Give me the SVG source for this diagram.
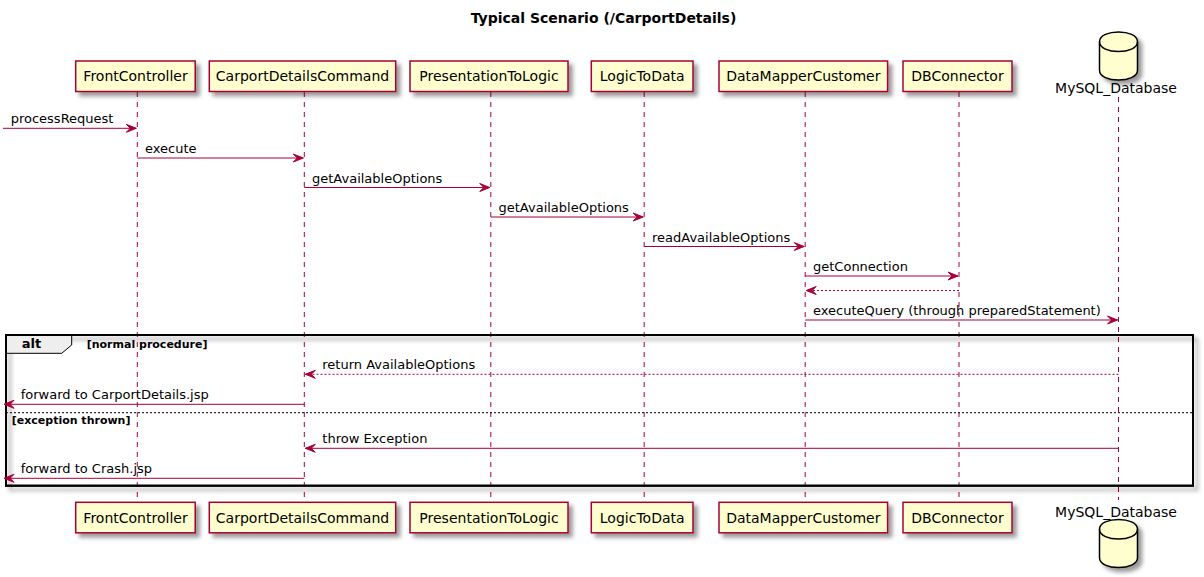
<svg xmlns="http://www.w3.org/2000/svg" width="1204" height="577" viewBox="0 0 1204 577">
<defs>
<filter id="sh" x="-10%" y="-10%" width="130%" height="140%">
<feGaussianBlur in="SourceAlpha" stdDeviation="2"/>
<feColorMatrix values="0 0 0 0 0 0 0 0 0 0 0 0 0 0 0 0 0 0 0.4 0"/>
<feOffset dx="4" dy="4" result="b"/>
<feMerge><feMergeNode in="b"/><feMergeNode in="SourceGraphic"/></feMerge>
</filter>
<filter id="shf" x="-2%" y="-5%" width="104%" height="115%">
<feGaussianBlur in="SourceAlpha" stdDeviation="2"/>
<feColorMatrix values="0 0 0 0 0 0 0 0 0 0 0 0 0 0 0 0 0 0 0.4 0"/>
<feOffset dx="4" dy="4" result="b"/>
<feMerge><feMergeNode in="b"/><feMergeNode in="SourceGraphic"/></feMerge>
</filter>
</defs>
<style>
text{font-family:"DejaVu Sans","Liberation Sans",sans-serif;fill:#000}
.title{font-size:14px;font-weight:bold}
.pbox{fill:#FEFECE;stroke:#A80036;stroke-width:1.5;filter:url(#sh)}
.db{fill:#FEFECE;stroke:#000;stroke-width:1.5;filter:url(#sh)}
.dbl{fill:none;stroke:#000;stroke-width:1.5}
.pt{font-size:14px;text-anchor:middle}
.life{stroke:#A80036;stroke-width:1;stroke-dasharray:5,5;fill:none}
.msg{stroke:#A80036;stroke-width:1;fill:none}
.ret{stroke:#A80036;stroke-width:1;stroke-dasharray:2,2;fill:none}
.ah{fill:#A80036;stroke:#A80036;stroke-width:1}
.mt{font-size:13px}
.frame{fill:none;stroke:#000;stroke-width:2;filter:url(#shf)}
.tab{fill:#EEEEEE;stroke:#000;stroke-width:1}
.sep{stroke:#000;stroke-width:1;stroke-dasharray:2,2}
.alt{font-size:13px;font-weight:bold}
.guard{font-size:11px;font-weight:bold}
</style>
<rect width="1204" height="577" fill="#FFFFFF"/>
<text class="title" x="603.5" y="23" text-anchor="middle">Typical Scenario (/CarportDetails)</text>

<g id="lifelines">
<line class="life" x1="137.3" y1="92" x2="137.3" y2="502"/>
<line class="life" x1="304.3" y1="92" x2="304.3" y2="502"/>
<line class="life" x1="490.8" y1="92" x2="490.8" y2="502"/>
<line class="life" x1="644.2" y1="92" x2="644.2" y2="502"/>
<line class="life" x1="805.2" y1="92" x2="805.2" y2="502"/>
<line class="life" x1="959" y1="92" x2="959" y2="502"/>
<line class="life" x1="1118.5" y1="97" x2="1118.5" y2="500"/>
</g>

<g id="FrontController">
<rect class="pbox" x="75.7" y="61" width="119.5" height="30.5"/>
<text class="pt" x="135.5" y="81">FrontController</text>
<rect class="pbox" x="75.7" y="502.3" width="119.5" height="30.5"/>
<text class="pt" x="135.5" y="522.5">FrontController</text>
</g>
<g id="CarportDetailsCommand">
<rect class="pbox" x="209.3" y="61" width="186.4" height="30.5"/>
<text class="pt" x="302.5" y="81">CarportDetailsCommand</text>
<rect class="pbox" x="209.3" y="502.3" width="186.4" height="30.5"/>
<text class="pt" x="302.5" y="522.5">CarportDetailsCommand</text>
</g>
<g id="PresentationToLogic">
<rect class="pbox" x="410" y="61" width="158" height="30.5"/>
<text class="pt" x="489" y="81">PresentationToLogic</text>
<rect class="pbox" x="410" y="502.3" width="158" height="30.5"/>
<text class="pt" x="489" y="522.5">PresentationToLogic</text>
</g>
<g id="LogicToData">
<rect class="pbox" x="591.3" y="61" width="101.7" height="30.5"/>
<text class="pt" x="642.2" y="81">LogicToData</text>
<rect class="pbox" x="591.3" y="502.3" width="101.7" height="30.5"/>
<text class="pt" x="642.2" y="522.5">LogicToData</text>
</g>
<g id="DataMapperCustomer">
<rect class="pbox" x="719" y="61" width="168.6" height="30.5"/>
<text class="pt" x="803.3" y="81">DataMapperCustomer</text>
<rect class="pbox" x="719" y="502.3" width="168.6" height="30.5"/>
<text class="pt" x="803.3" y="522.5">DataMapperCustomer</text>
</g>
<g id="DBConnector">
<rect class="pbox" x="903" y="61" width="109" height="30.5"/>
<text class="pt" x="957.5" y="81">DBConnector</text>
<rect class="pbox" x="903" y="502.3" width="109" height="30.5"/>
<text class="pt" x="957.5" y="522.5">DBConnector</text>
</g>
<g id="MySQL_Database">
<path class="db" d="M1099.5,41.75 C1099.5,28.75 1137.5,28.75 1137.5,41.75 L1137.5,70.25 C1137.5,83.25 1099.5,83.25 1099.5,70.25 Z"/>
<path class="dbl" d="M1099.5,41.75 C1099.5,54.75 1137.5,54.75 1137.5,41.75"/>
<text class="pt" x="1116" y="93.3">MySQL_Database</text>
<text class="pt" x="1116" y="516.5">MySQL_Database</text>
<path class="db" d="M1099.5,529.25 C1099.5,516.25 1137.5,516.25 1137.5,529.25 L1137.5,557.75 C1137.5,570.75 1099.5,570.75 1099.5,557.75 Z"/>
<path class="dbl" d="M1099.5,529.25 C1099.5,542.25 1137.5,542.25 1137.5,529.25"/>
</g>

<g id="alt-frame">
<rect class="frame" x="6" y="335" width="1187" height="150.7"/>
<path class="tab" d="M6,335 L71.7,335 L71.7,345 L61.7,353.3 L6,353.3 Z"/>
<rect x="6" y="335" width="1187" height="150.7" fill="none" stroke="#000" stroke-width="2"/>
<text class="alt" x="21.7" y="348">alt</text>
<text class="guard" x="86.7" y="347.5">[normal procedure]</text>
<line class="sep" x1="6" y1="412.7" x2="1193" y2="412.7"/>
<text class="guard" x="11.7" y="423.5">[exception thrown]</text>
</g>

<g id="connectors">
<line class="msg" x1="3" y1="128.3" x2="136.3" y2="128.3"/>
<polygon class="ah" points="126.3,124.3 136.3,128.3 126.3,132.3 130.3,128.3"/>
<text class="mt" x="10.7" y="123.3">processRequest</text>

<line class="msg" x1="137.3" y1="158" x2="303.3" y2="158"/>
<polygon class="ah" points="293.3,154 303.3,158 293.3,162 297.3,158"/>
<text class="mt" x="145" y="153">execute</text>

<line class="msg" x1="304.3" y1="187.5" x2="489.8" y2="187.5"/>
<polygon class="ah" points="479.8,183.5 489.8,187.5 479.8,191.5 483.8,187.5"/>
<text class="mt" x="312" y="182.5">getAvailableOptions</text>

<line class="msg" x1="490.8" y1="217" x2="643.2" y2="217"/>
<polygon class="ah" points="633.2,213 643.2,217 633.2,221 637.2,217"/>
<text class="mt" x="498.5" y="212">getAvailableOptions</text>

<line class="msg" x1="644.2" y1="246.5" x2="804.2" y2="246.5"/>
<polygon class="ah" points="794.2,242.5 804.2,246.5 794.2,250.5 798.2,246.5"/>
<text class="mt" x="652" y="241.5">readAvailableOptions</text>

<line class="msg" x1="805.2" y1="276" x2="958" y2="276"/>
<polygon class="ah" points="948,272 958,276 948,280 952,276"/>
<text class="mt" x="813" y="271">getConnection</text>

<line class="ret" x1="959" y1="290.5" x2="806.2" y2="290.5"/>
<polygon class="ah" points="816.2,286.5 806.2,290.5 816.2,294.5 812.2,290.5"/>

<line class="msg" x1="805.2" y1="320" x2="1117.5" y2="320"/>
<polygon class="ah" points="1107.5,316 1117.5,320 1107.5,324 1111.5,320"/>
<text class="mt" x="813" y="315">executeQuery (through preparedStatement)</text>

<line class="ret" x1="1118.5" y1="374.3" x2="305.3" y2="374.3"/>
<polygon class="ah" points="315.3,370.3 305.3,374.3 315.3,378.3 311.3,374.3"/>
<text class="mt" x="322.3" y="369.3">return AvailableOptions</text>

<line class="msg" x1="304.3" y1="404.3" x2="4" y2="404.3"/>
<polygon class="ah" points="14,400.3 4,404.3 14,408.3 10,404.3"/>
<text class="mt" x="20.7" y="399.3">forward to CarportDetails.jsp</text>

<line class="msg" x1="1118.5" y1="448.3" x2="305.3" y2="448.3"/>
<polygon class="ah" points="315.3,444.3 305.3,448.3 315.3,452.3 311.3,448.3"/>
<text class="mt" x="322.3" y="443.3">throw Exception</text>

<line class="msg" x1="304.3" y1="478.3" x2="4" y2="478.3"/>
<polygon class="ah" points="14,474.3 4,478.3 14,482.3 10,478.3"/>
<text class="mt" x="20.7" y="473.3">forward to Crash.jsp</text>
</g>
</svg>
